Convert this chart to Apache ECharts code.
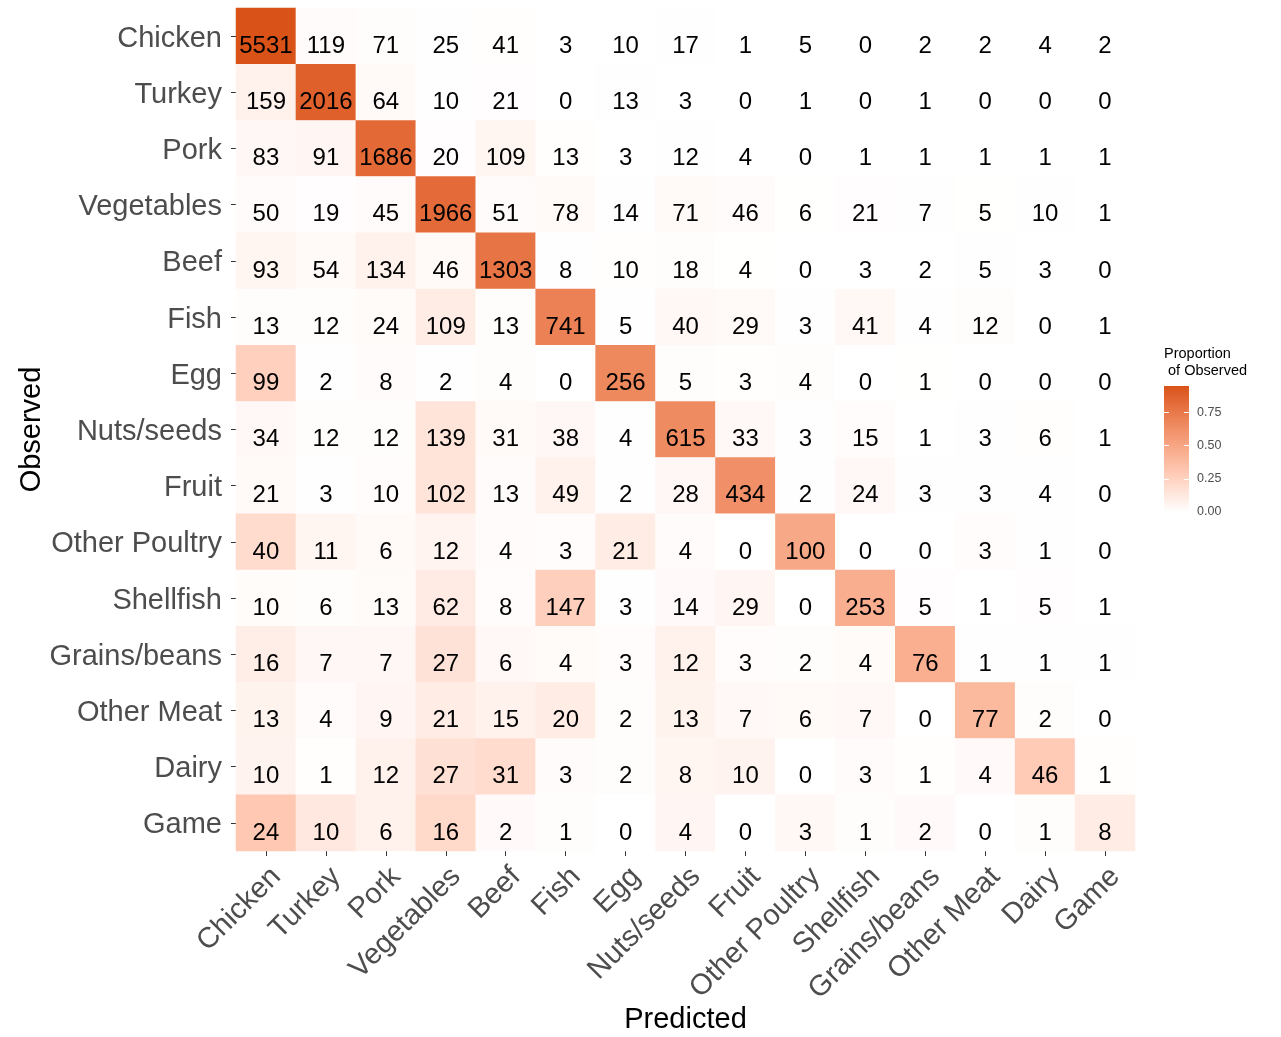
<!DOCTYPE html>
<html>
<head>
<meta charset="utf-8">
<script src="https://cdn.jsdelivr.net/npm/echarts@6/dist/echarts.min.js"></script>
<style>
html, body { margin: 0; padding: 0; background: #ffffff; }
#chart { width: 1281px; height: 1037px; }
</style>
</head>
<body>
<div id="chart"></div>
<script>
// Food categories (rows = observed, columns = predicted)
const categories = ['Chicken', 'Turkey', 'Pork', 'Vegetables', 'Beef', 'Fish', 'Egg', 'Nuts/seeds',
  'Fruit', 'Other Poultry', 'Shellfish', 'Grains/beans', 'Other Meat', 'Dairy', 'Game'];

// Counts per observed class, in predicted-class order
const obsChicken      = [5531, 119, 71, 25, 41, 3, 10, 17, 1, 5, 0, 2, 2, 4, 2];
const obsTurkey       = [159, 2016, 64, 10, 21, 0, 13, 3, 0, 1, 0, 1, 0, 0, 0];
const obsPork         = [83, 91, 1686, 20, 109, 13, 3, 12, 4, 0, 1, 1, 1, 1, 1];
const obsVegetables   = [50, 19, 45, 1966, 51, 78, 14, 71, 46, 6, 21, 7, 5, 10, 1];
const obsBeef         = [93, 54, 134, 46, 1303, 8, 10, 18, 4, 0, 3, 2, 5, 3, 0];
const obsFish         = [13, 12, 24, 109, 13, 741, 5, 40, 29, 3, 41, 4, 12, 0, 1];
const obsEgg          = [99, 2, 8, 2, 4, 0, 256, 5, 3, 4, 0, 1, 0, 0, 0];
const obsNutsSeeds    = [34, 12, 12, 139, 31, 38, 4, 615, 33, 3, 15, 1, 3, 6, 1];
const obsFruit        = [21, 3, 10, 102, 13, 49, 2, 28, 434, 2, 24, 3, 3, 4, 0];
const obsOtherPoultry = [40, 11, 6, 12, 4, 3, 21, 4, 0, 100, 0, 0, 3, 1, 0];
const obsShellfish    = [10, 6, 13, 62, 8, 147, 3, 14, 29, 0, 253, 5, 1, 5, 1];
const obsGrainsBeans  = [16, 7, 7, 27, 6, 4, 3, 12, 3, 2, 4, 76, 1, 1, 1];
const obsOtherMeat    = [13, 4, 9, 21, 15, 20, 2, 13, 7, 6, 7, 0, 77, 2, 0];
const obsDairy        = [10, 1, 12, 27, 31, 3, 2, 8, 10, 0, 3, 1, 4, 46, 1];
const obsGame         = [24, 10, 6, 16, 2, 1, 0, 4, 0, 3, 1, 2, 0, 1, 8];

// Colour-bar tick labels
const legendTicks = [0, 0.25, 0.5, 0.75];

const countRows = [obsChicken, obsTurkey, obsPork, obsVegetables, obsBeef, obsFish, obsEgg,
  obsNutsSeeds, obsFruit, obsOtherPoultry, obsShellfish, obsGrainsBeans, obsOtherMeat, obsDairy, obsGame];

// Heatmap cells: [predicted index, observed index, proportion of observed row, count]
const cells = [];
let maxProp = 0;
countRows.forEach((row, i) => {
  const total = row.reduce((a, b) => a + b, 0);
  row.forEach((n, j) => {
    const p = total > 0 ? n / total : 0;
    if (p > maxProp) maxProp = p;
    cells.push([j, i, p, n]);
  });
});

// White -> orange gradient interpolated in CIE Lab space
function srgbToLab(hex) {
  const c = [1, 3, 5].map(k => parseInt(hex.substr(k, 2), 16) / 255)
    .map(v => v <= 0.04045 ? v / 12.92 : Math.pow((v + 0.055) / 1.055, 2.4));
  const X = (0.4124 * c[0] + 0.3576 * c[1] + 0.1805 * c[2]) / 0.95047;
  const Y = (0.2126 * c[0] + 0.7152 * c[1] + 0.0722 * c[2]);
  const Z = (0.0193 * c[0] + 0.1192 * c[1] + 0.9505 * c[2]) / 1.08883;
  const f = t => t > 0.008856 ? Math.cbrt(t) : 7.787 * t + 16 / 116;
  return [116 * f(Y) - 16, 500 * (f(X) - f(Y)), 200 * (f(Y) - f(Z))];
}
function labToHex(L, a, b) {
  const fy = (L + 16) / 116, fx = fy + a / 500, fz = fy - b / 200;
  const inv = t => t * t * t > 0.008856 ? t * t * t : (t - 16 / 116) / 7.787;
  const X = inv(fx) * 0.95047, Y = inv(fy), Z = inv(fz) * 1.08883;
  const lin = [
    3.2406 * X - 1.5372 * Y - 0.4986 * Z,
    -0.9689 * X + 1.8758 * Y + 0.0415 * Z,
    0.0557 * X - 0.2040 * Y + 1.0570 * Z
  ];
  return '#' + lin.map(v => {
    v = v <= 0.0031308 ? 12.92 * v : 1.055 * Math.pow(v, 1 / 2.4) - 0.055;
    v = Math.round(Math.min(1, Math.max(0, v)) * 255);
    return v.toString(16).padStart(2, '0');
  }).join('');
}
function labRamp(lowHex, highHex, n) {
  const lo = srgbToLab(lowHex), hi = srgbToLab(highHex);
  const out = [];
  for (let k = 0; k < n; k++) {
    const t = k / (n - 1);
    out.push(labToHex(lo[0] + (hi[0] - lo[0]) * t, lo[1] + (hi[1] - lo[1]) * t, lo[2] + (hi[2] - lo[2]) * t));
  }
  return out;
}
const ramp = labRamp('#ffffff', '#d95319', 21);

const FONT = 'Liberation Sans, Arial, Helvetica, sans-serif';
const chart = echarts.init(document.getElementById('chart'), null, { renderer: 'canvas' });

chart.setOption({
  backgroundColor: '#ffffff',
  animation: false,
  title: {
    text: 'Proportion\n of Observed',
    left: 1164,
    top: 345,
    padding: 0,
    textStyle: { fontFamily: FONT, fontSize: 14.5, fontWeight: 'normal', color: '#000000', lineHeight: 17 }
  },
  grid: [
    { left: 236, top: 8, width: 899, height: 843, containLabel: false, outerBoundsMode: 'none' },
    { left: 1164, top: 386, width: 25, height: 126, containLabel: false, outerBoundsMode: 'none' }
  ],
  xAxis: [
    {
      type: 'category',
      gridIndex: 0,
      data: categories,
      position: 'bottom',
      axisLine: { show: false },
      axisTick: { show: true, alignWithLabel: true, length: 5, lineStyle: { color: '#333333', width: 1 } },
      splitLine: { show: false },
      axisLabel: {
        interval: 0, rotate: 45, margin: 11,
        align: 'right', verticalAlign: 'top',
        fontFamily: FONT, fontSize: 29, color: '#4d4d4d'
      },
      name: 'Predicted',
      nameLocation: 'middle',
      nameGap: 154,
      nameMoveOverlap: false,
      nameTextStyle: { fontFamily: FONT, fontSize: 29, color: '#000000' }
    },
    {
      type: 'category',
      gridIndex: 1,
      data: ['bar'],
      show: false
    }
  ],
  yAxis: [
    {
      type: 'category',
      gridIndex: 0,
      data: categories,
      inverse: true,
      axisLine: { show: false },
      axisTick: { show: true, alignWithLabel: true, length: 5, lineStyle: { color: '#333333', width: 1 } },
      splitLine: { show: false },
      axisLabel: {
        interval: 0, margin: 14, color: '#4d4d4d',
        formatter: v => '{lab|' + v + '}',
        rich: { lab: { fontFamily: FONT, fontSize: 29, color: '#4d4d4d', padding: [5, 0, 0, 0] } }
      },
      name: 'Observed',
      nameLocation: 'middle',
      nameGap: 190,
      nameMoveOverlap: false,
      nameTextStyle: { fontFamily: FONT, fontSize: 29, color: '#000000' }
    },
    {
      type: 'value',
      gridIndex: 1,
      position: 'right',
      min: 0,
      max: maxProp,
      z: 5,
      axisLine: { show: false },
      splitLine: { show: false },
      axisTick: { show: true, inside: true, length: 5, customValues: legendTicks, lineStyle: { color: '#ffffff', width: 1 } },
      axisLabel: {
        customValues: legendTicks, margin: 8,
        fontFamily: FONT, fontSize: 12.5, color: '#4d4d4d',
        formatter: v => v.toFixed(2)
      }
    },
    {
      type: 'value',
      gridIndex: 1,
      position: 'left',
      min: 0,
      max: maxProp,
      z: 5,
      axisLine: { show: false },
      splitLine: { show: false },
      axisTick: { show: true, inside: true, length: 5, customValues: legendTicks, lineStyle: { color: '#ffffff', width: 1 } },
      axisLabel: { show: false }
    }
  ],
  visualMap: {
    show: false,
    type: 'continuous',
    seriesIndex: 0,
    dimension: 2,
    min: 0,
    max: maxProp,
    inRange: { color: ramp }
  },
  series: [
    {
      type: 'heatmap',
      xAxisIndex: 0,
      yAxisIndex: 0,
      data: cells,
      itemStyle: { borderWidth: 0 },
      emphasis: { disabled: true },
      label: {
        show: true,
        formatter: p => String(p.value[3]),
        fontFamily: FONT,
        fontSize: 24,
        color: '#000000',
        offset: [0, 10]
      }
    },
    {
      type: 'bar',
      xAxisIndex: 1,
      yAxisIndex: 1,
      data: [maxProp],
      barWidth: '100%',
      silent: true,
      itemStyle: {
        color: new echarts.graphic.LinearGradient(0, 1, 0, 0,
          ramp.map((c, k) => ({ offset: k / (ramp.length - 1), color: c })))
      }
    }
  ]
});
</script>
</body>
</html>
